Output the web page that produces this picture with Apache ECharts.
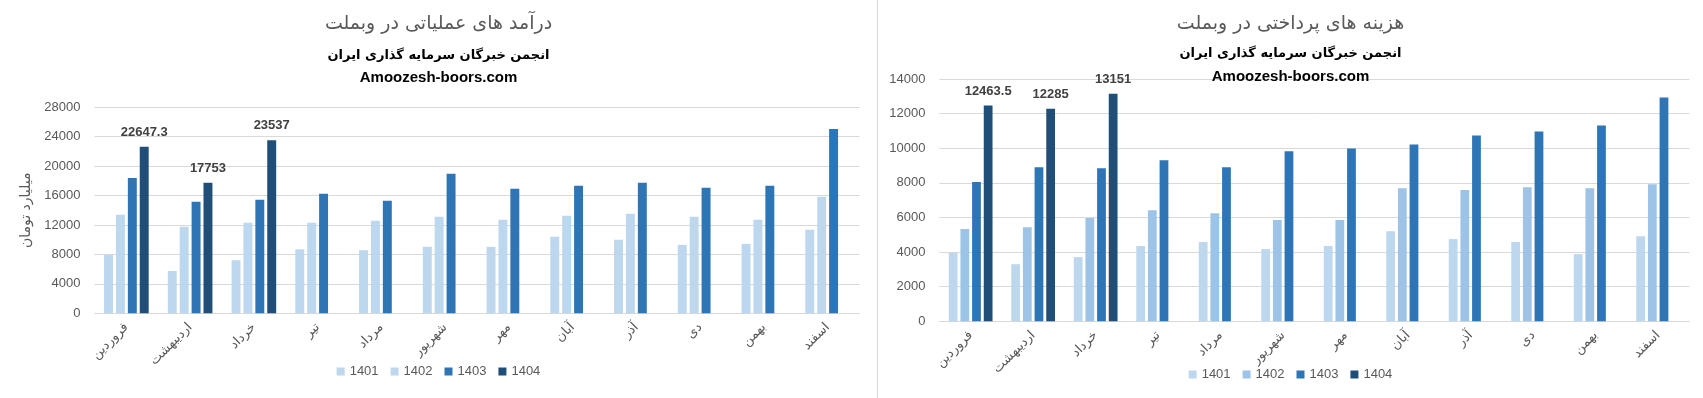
<!DOCTYPE html>
<html>
<head>
<meta charset="utf-8">
<script src="https://cdn.jsdelivr.net/npm/echarts@6/dist/echarts.min.js"></script>
<style>
  body { margin: 0; background: #fff; }
  #wrap { display: flex; width: 1703px; height: 398px; }
  #left { width: 877px; height: 398px; }
  #right { width: 825px; height: 398px; border-left: 1px solid #d9d9d9; }
</style>
</head>
<body>
<div id="wrap">
  <div id="left"></div>
  <div id="right"></div>
</div>
<script>
// ماه‌ها
const months = ['فروردین', 'اردیبهشت', 'خرداد', 'تیر', 'مرداد', 'شهریور', 'مهر', 'آبان', 'آذر', 'دی', 'بهمن', 'اسفند'];
const years = ['1401', '1402', '1403', '1404'];

// درآمد های عملیاتی (میلیارد تومان)
const income1401 = [7960, 5750, 7220, 8700, 8580, 9050, 9030, 10410, 10000, 9300, 9440, 11360];
const income1402 = [13400, 11770, 12320, 12320, 12590, 13130, 12720, 13270, 13540, 13130, 12720, 15850];
const income1403 = [18390, 15170, 15440, 16260, 15310, 18980, 16920, 17320, 17730, 17050, 17320, 25050];
const income1404 = [22647.3, 17753, 23537];

// هزینه های پرداختی
const expense1401 = [3960, 3300, 3710, 4350, 4580, 4170, 4350, 5210, 4750, 4580, 3880, 4920];
const expense1402 = [5330, 5440, 5970, 6420, 6250, 5850, 5850, 7690, 7580, 7750, 7690, 7920];
const expense1403 = [8050, 8900, 8840, 9300, 8900, 9820, 9990, 10220, 10740, 10970, 11320, 12930];
const expense1404 = [12463.5, 12285, 13151];

const persianFont = '"DejaVu Sans", sans-serif';
const latinFont = '"Liberation Sans", Arial, sans-serif';

const buildOption = (cfg) => {
  const series = cfg.data.map((values, i) => ({
    name: years[i],
    type: 'bar',
    data: values,
    barGap: '33%',
    barCategoryGap: '30%',
    itemStyle: { color: cfg.colors[i] },
    label: {
      show: i === 3,
      position: 'top',
      distance: 8,
      fontFamily: latinFont,
      fontWeight: 'bold',
      fontSize: 13,
      color: '#404040'
    }
  }));

  return {
    animation: false,
    title: [
      {
        text: cfg.title,
        left: 'center',
        top: 10,
        textStyle: { fontFamily: persianFont, fontWeight: 'normal', fontSize: 19, color: '#595959' }
      },
      {
        text: 'انجمن خبرگان سرمایه گذاری ایران',
        left: 'center',
        top: cfg.subTop,
        textStyle: { fontFamily: persianFont, fontWeight: 'bold', fontSize: 13, color: '#000' }
      },
      {
        text: 'Amoozesh-boors.com',
        left: 'center',
        top: cfg.siteTop,
        textStyle: { fontFamily: latinFont, fontWeight: 'bold', fontSize: 15, color: '#000' }
      }
    ],
    legend: {
      bottom: cfg.legendBottom,
      left: 'center',
      icon: 'rect',
      itemWidth: 8,
      itemHeight: 8,
      itemGap: 12,
      textStyle: { fontFamily: latinFont, fontSize: 13, color: '#595959' },
      data: years
    },
    grid: cfg.grid,
    xAxis: {
      type: 'category',
      data: months,
      axisLine: { lineStyle: { color: '#d9d9d9' } },
      axisTick: { show: false },
      axisLabel: {
        rotate: 45,
        interval: 0,
        margin: 12,
        fontFamily: persianFont,
        fontSize: 13,
        color: '#595959'
      }
    },
    yAxis: {
      type: 'value',
      min: 0,
      max: cfg.max,
      interval: cfg.interval,
      name: cfg.yName || '',
      nameLocation: 'middle',
      nameGap: 61,
      nameTextStyle: { fontFamily: persianFont, fontSize: 14, color: '#595959' },
      axisLabel: {
        fontFamily: latinFont,
        fontSize: 13,
        color: '#595959',
        margin: 14,
        formatter: (v) => String(v)
      },
      splitLine: { lineStyle: { color: '#d9d9d9' } }
    },
    series
  };
};

const leftChart = echarts.init(document.getElementById('left'));
leftChart.setOption(buildOption({
  title: 'درآمد های عملیاتی در وبملت',
  subTop: 44,
  siteTop: 65,
  data: [income1401, income1402, income1403, income1404],
  colors: ['#BDD7EE', '#BDD7EE', '#2E75B6', '#1F4E79'],
  max: 28000,
  interval: 4000,
  yName: 'میلیارد تومان',
  grid: { left: 94.5, right: 17.5, top: 107.3, bottom: 84.7 },
  legendBottom: 15
}));

const rightChart = echarts.init(document.getElementById('right'));
rightChart.setOption(buildOption({
  title: 'هزینه های پرداختی در وبملت',
  subTop: 42,
  siteTop: 64,
  data: [expense1401, expense1402, expense1403, expense1404],
  colors: ['#BDD7EE', '#9DC3E6', '#2E75B6', '#1F4E79'],
  max: 14000,
  interval: 2000,
  grid: { left: 61.4, right: 13.6, top: 79, bottom: 76.7 },
  legendBottom: 12
}));
</script>
</body>
</html>
